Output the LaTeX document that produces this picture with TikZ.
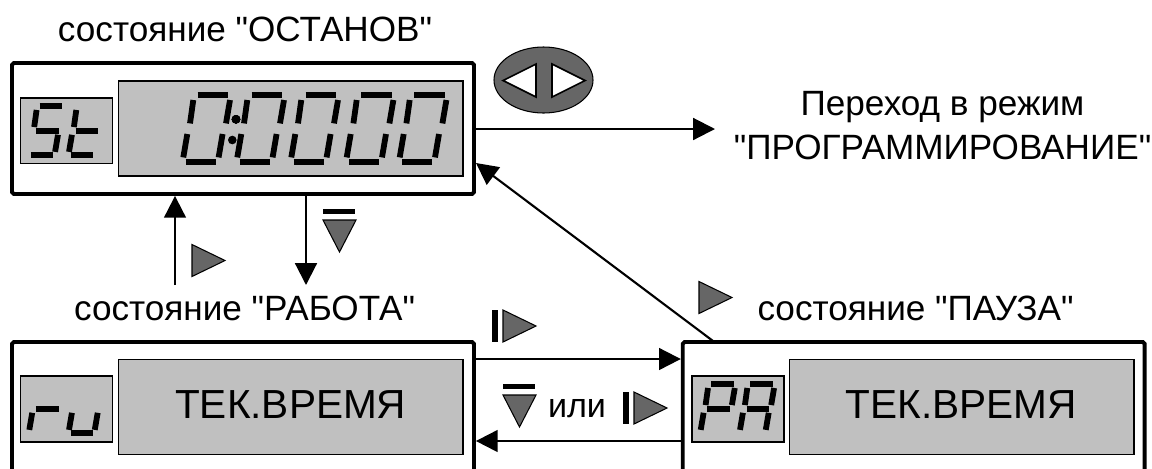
\documentclass[tikz,border=0pt]{standalone}
\usepackage{fontspec}
\setmainfont{Liberation Sans}[Ligatures=TeXOff]
\usetikzlibrary{arrows.meta}
\definecolor{lcdgray}{HTML}{C0C0C0}
\definecolor{keygray}{HTML}{666666}
\tikzset{
    panel/.style={draw, line width=2.2pt, rounded corners=1pt, minimum width=9.24cm},
    lcd/.style={draw, line width=0.9pt, fill=lcdgray},
    lcdtext/.style={lcd, font=\fontsize{23.1}{26}\selectfont, text depth=2.3pt, inner sep=0pt},
    title/.style={font=\fontsize{20}{25}\selectfont, align=center, inner sep=0pt, anchor=base},
    flow/.style={line width=1.2pt, -{Triangle[length=12.4pt,width=12.4pt]}},
    segline/.style={line width=3.3pt},
    keyface/.style={draw, line width=0.6pt, fill=keygray, line join=miter},
    sega/.pic={\draw[segline] (14.3,-66.7) -- (45,-66.7);},
    segb/.pic={\draw[segline] (46.7,-61.7) -- (42.7,-38.3);},
    segc/.pic={\draw[segline] (39.3,-27.7) -- (35.3,-4.3);},
    segd/.pic={\draw[segline] (2.3,0) -- (32.7,0);},
    sege/.pic={\draw[segline] (4,-27.7) -- (0,-4.3);},
    segf/.pic={\draw[segline] (10,-61.7) -- (6.7,-38.3);},
    segg/.pic={\draw[segline] (9,-33) -- (40,-33);},
    keyright/.pic={\draw[keyface] (0,-16) -- (33,0) -- (0,16) -- cycle;},
    keydown/.pic={\fill (0,-11) rectangle (32,-6);
        \draw[keyface] (0,0) -- (33,0) -- (16.5,32) -- cycle;},
    keystep/.pic={\fill (-11,-16) rectangle (-5,16);
        \draw[keyface] (0,-16) -- (33,0) -- (0,16) -- cycle;},
}
% one seven-segment digit: x, y, scale, segments
\newcommand{\segdigit}[4]{
    \begin{scope}[shift={(#1,#2)}, scale=#3]
        \foreach \s in {#4} { \pic[transform shape] {seg\s}; }
    \end{scope}
}
\begin{document}
\begin{tikzpicture}[x=0.02cm, y=-0.02cm]
    \useasboundingbox (0,0) rectangle (1152,468);
    \clip (0,0) rectangle (1152,468);

    % panels
    \node[panel, minimum height=2.62cm] (stop) at (243,128.5) {};
    \node[panel, minimum height=3.56cm] (run) at (243,431) {};
    \node[panel, minimum height=3.56cm] (pause) at (913.7,431) {};

    % displays
    \node[lcd, minimum width=1.84cm, minimum height=1.32cm] (stopmode) at (66.5,130.7) {};
    \node[lcd, minimum width=6.89cm, minimum height=1.9cm] (stopvalue) at (290.7,128.5) {};
    \node[lcd, minimum width=1.84cm, minimum height=1.32cm] (runmode) at (66.5,409) {};
    \node[lcdtext, minimum width=6.89cm, minimum height=1.9cm] (runvalue) at (290.7,407) {ТЕК.ВРЕМЯ};
    \node[lcd, minimum width=1.84cm, minimum height=1.32cm] (pausemode) at (738,409) {};
    \node[lcdtext, minimum width=6.89cm, minimum height=1.9cm] (pausevalue) at (961.5,407) {ТЕК.ВРЕМЯ};

    % digits
    \segdigit{29.3}{155}{0.73}{a,f,g,c,d}
    \segdigit{69}{155}{0.73}{f,g,e,d}
    \segdigit{29.3}{433}{0.73}{g,e}
    \segdigit{69}{433}{0.73}{e,d,c}
    \segdigit{700.7}{433}{0.73}{a,b,e,f,g}
    \segdigit{740}{433}{0.73}{a,b,c,e,f,g}
    \foreach \x in {183.3,237.3,291.3,346.7,399.7}
        \segdigit{\x}{161.7}{1}{a,b,c,d,e,f}
    \fill (236,119.3) circle (4.3);
    \fill (232.3,140) circle (4.3);

    % labels
    \node[title] (stoptitle) at (245,41.7) {состояние "ОСТАНОВ"};
    \node[title] (runtitle) at (244.5,320) {состояние "РАБОТА"};
    \node[title] (pausetitle) at (915.5,320) {состояние "ПАУЗА"};
    \node[title, anchor=center] (prog) at (942.5,126) {Переход в режим\\"ПРОГРАММИРОВАНИЕ"};
    \node[title, font=\fontsize{19.4}{22}\selectfont] (orword) at (577,417) {или};

    % connectors
    \coordinate (upfrom) at (175,285);
    \coordinate (downto) at (306,285);
    \coordinate (progto) at (715,129);
    \coordinate (diagfrom) at (713,341);
    \coordinate (diagto) at (476,163);
    \coordinate (hi) at (0,359);
    \coordinate (lo) at (0,441);
    \draw[flow] (upfrom) -- (upfrom |- stop.south);
    \draw[flow] (downto |- stop.south) -- (downto);
    \draw[flow] (stop.east |- progto) -- (progto);
    \draw[flow] (diagfrom) -- (diagto);
    \draw[flow] (run.east |- hi) -- (pause.west |- hi);
    \draw[flow] (pause.west |- lo) -- (run.east |- lo);

    % keys
    \pic at (192,260.5) {keyright};
    \pic at (323,220) {keydown};
    \pic at (699,297.5) {keyright};
    \pic at (503,326) {keystep};
    \pic at (503,395) {keydown};
    \pic at (634,408) {keystep};
    \draw[keyface] (543.5,80) ellipse (49.5 and 33);
    \draw[line width=0.9pt, fill=white] (536,64) -- (503,80.5) -- (536,97) -- cycle;
    \draw[line width=0.9pt, fill=white] (552,64) -- (585,80.5) -- (552,97) -- cycle;
\end{tikzpicture}
\end{document}
